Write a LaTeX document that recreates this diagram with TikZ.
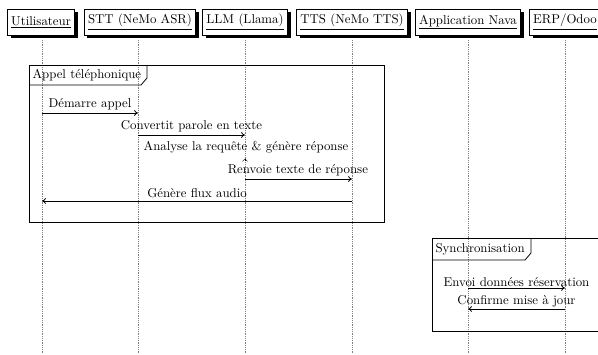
\documentclass[tikz,border=0pt]{standalone}
\usetikzlibrary{shadows,arrows.meta}
\begin{document}
\begin{tikzpicture}[x=0.78pt,y=-0.78pt,
  head/.style={draw,fill=white,inner sep=3pt,minimum height=20.3pt,
    drop shadow={fill=black,opacity=1,shadow xshift=2.5pt,shadow yshift=-2.5pt}},
  life/.style={densely dotted,gray},
  msg/.style={-{To[length=3pt,width=4.5pt]},semithick},
  lbl/.style={above,inner sep=2pt},
  framebox/.style={draw,semithick},
  ftitle/.style={anchor=west,inner sep=1pt}]
\useasboundingbox (0,0) rectangle (598,354);
\clip (0,0) rectangle (598,354);
% headers
\node[head] (u)   at (41,22)  {\underline{Utilisateur}};
\node[head] (stt) at (140,22) {\underline{STT (NeMo ASR)}};
\node[head] (llm) at (245,22) {\underline{LLM (Llama)}};
\node[head] (tts) at (352,22) {\underline{TTS (NeMo TTS)}};
\node[head] (app) at (468,22) {\underline{Application Nava}};
\node[head] (erp) at (565,22) {\underline{ERP/Odoo}};
% lifelines
\foreach \n/\x in {u/42,stt/138,llm/245,tts/352,app/468,erp/565}{
  \coordinate (\n-top) at (\x,40);
  \coordinate (\n-bot) at (\x,354);
  \draw[life] (\n-top) -- (\n-bot);
}
% frame 1
\draw[framebox] (29,65) rectangle (384,222);
\draw[framebox] (29,85) -- (141,85) -- (147,78) -- (147,65);
\node[ftitle] (f1) at (31,75) {Appel téléphonique};
% frame 2
\draw[framebox] (432,238) rectangle (620,331);
\draw[framebox] (432,260) -- (525,260) -- (531,253) -- (531,238);
\node[ftitle] (f2) at (434,249) {Synchronisation};
% message coordinates
\coordinate (a1) at (42,113);  \coordinate (b1) at (138,113);
\coordinate (a2) at (138,135); \coordinate (b2) at (245,135);
\coordinate (a4) at (245,179); \coordinate (b4) at (352,179);
\coordinate (a5) at (352,201); \coordinate (b5) at (42,201);
\coordinate (a6) at (468,288); \coordinate (b6) at (565,288);
\coordinate (a7) at (565,309); \coordinate (b7) at (468,309);
\draw[msg] (a1) -- node[lbl] {Démarre appel} (b1);
\draw[msg] (a2) -- node[lbl] {Convertit parole en texte} (b2);
\node (an) at (246,147) {Analyse la requête \& génère réponse};
\coordinate (s1) at (245,161);
\coordinate (s2) at (245,158.5);
\draw[-{Straight Barb[length=2pt,width=4pt]},thin] (s1) -- (s2);
\draw[msg] (a4) -- node[lbl,xshift=-0.5pt] {Renvoie texte de réponse} (b4);
\draw[msg] (a5) -- node[lbl] {Génère flux audio} (b5);
\draw[msg] (a6) -- node[lbl,inner sep=1pt] {Envoi données réservation} (b6);
\draw[msg] (a7) -- node[lbl,inner sep=1.5pt] {Confirme mise à jour} (b7);
\end{tikzpicture}
\end{document}
